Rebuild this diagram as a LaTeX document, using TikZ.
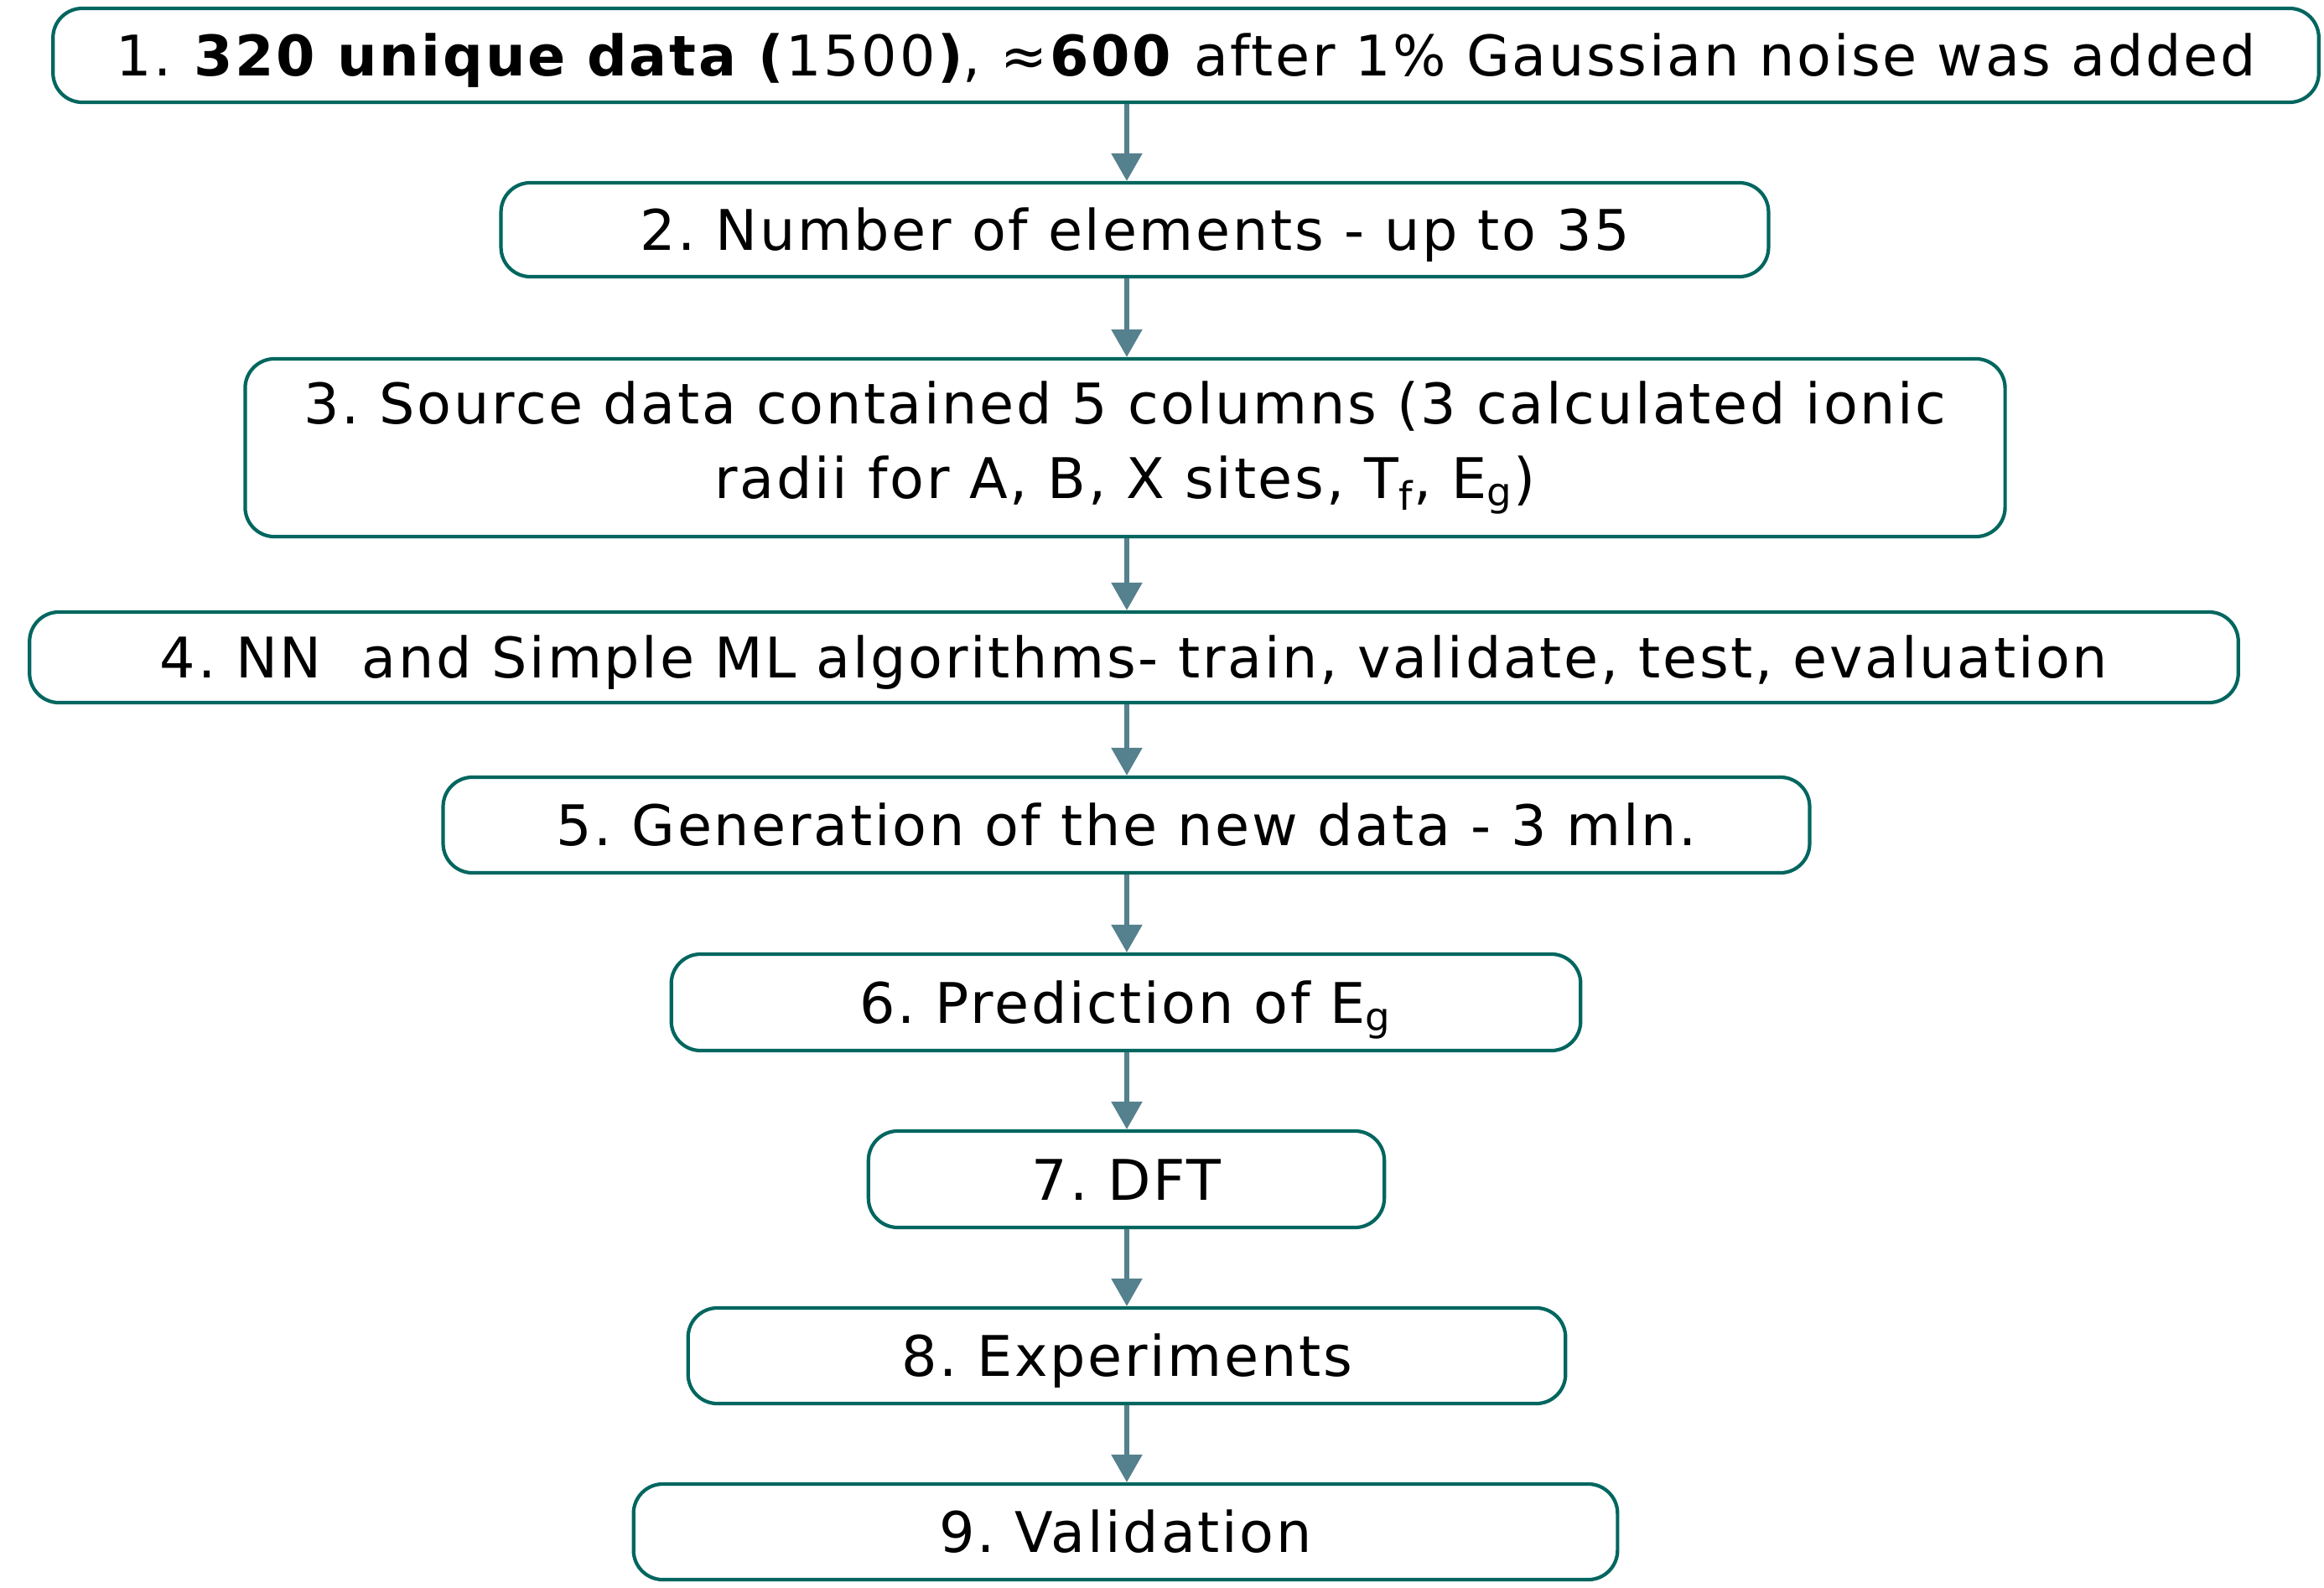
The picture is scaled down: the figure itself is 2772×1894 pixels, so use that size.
\documentclass[tikz,border=0pt]{standalone}
\usepackage{fontspec}
\setmainfont[LetterSpace=4]{DejaVu Sans}
\usepackage{xcolor}
\usetikzlibrary{arrows.meta}
\definecolor{boxteal}{HTML}{00665F}
\definecolor{arrowgray}{HTML}{55808E}
\frenchspacing

\begin{document}
\begin{tikzpicture}[x=0.01cm,y=-0.01cm,
  stepbox/.style={draw=boxteal,line width=1.2pt,rounded corners=0.35cm,align=center,inner sep=0pt,
    font=\fontsize{19}{25.2}\selectfont},
  oneline/.style={stepbox,text height=0.49cm,text depth=0pt},
  flowarrow/.style={draw=arrowgray,line width=1.6pt,-{Triangle[length=0.33cm,width=0.36cm]}}]
\useasboundingbox (0,0) rectangle (2772,1894);
\coordinate (axis) at (1344,0);
\node[oneline,minimum width=27.01cm,minimum height=1.12cm] (s1) at (1414.5,66)
  {1. \textbf{320 unique data (}1500\textbf{)}, ≈\textbf{600} after 1\% Gaussian noise was added};
\node[oneline,minimum width=15.11cm,minimum height=1.12cm] (s2) at (1353.5,274)
  {2. Number of elements - up to 35};
\node[stepbox,minimum width=20.98cm,minimum height=2.12cm] (s3) at (1342,534)
  {3. Source data contained 5 columns (3 calculated ionic\\radii for A, B, X sites, T\textsubscript{f}, E\textsubscript{g})};
\node[oneline,minimum width=26.33cm,minimum height=1.08cm] (s4) at (1352.5,784)
  {4. NN\ \ and Simple ML algorithms- train, validate, test, evaluation};
\node[oneline,minimum width=16.29cm,minimum height=1.14cm] (s5) at (1343.5,984)
  {5. Generation of the new data - 3 mln.};
\node[oneline,minimum width=10.84cm,minimum height=1.15cm] (s6) at (1343,1195.5)
  {6. Prediction of E\textsubscript{g}};
\node[oneline,minimum width=6.15cm,minimum height=1.15cm] (s7) at (1343.5,1406.5)
  {7. DFT};
\node[oneline,minimum width=10.46cm,minimum height=1.14cm] (s8) at (1344,1617)
  {8. Experiments};
\node[oneline,minimum width=11.73cm,minimum height=1.14cm] (s9) at (1342.5,1827)
  {9. Validation};
\foreach \a/\b in {s1/s2,s2/s3,s3/s4,s4/s5,s5/s6,s6/s7,s7/s8,s8/s9}
  {\draw[flowarrow] (\a.south -| axis) -- (\b.north -| axis);}
\end{tikzpicture}
\end{document}
